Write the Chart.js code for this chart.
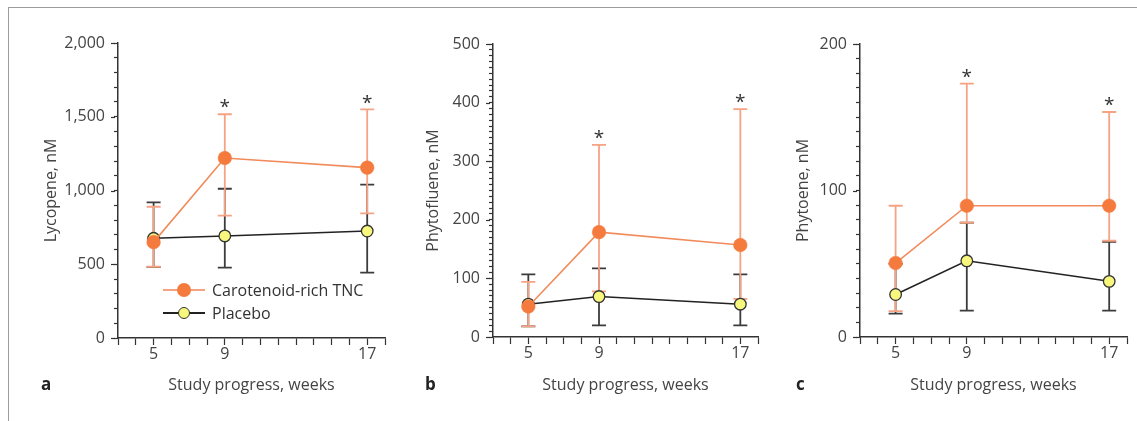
<!DOCTYPE html>
<html>
<head>
<meta charset="utf-8">
<script src="https://cdn.jsdelivr.net/npm/chart.js@4.4.1/dist/chart.umd.min.js"></script>
<style>
  body { margin: 0; width: 1137px; height: 421px; background: #fff; position: relative; overflow: hidden; font-family: "Open Sans", sans-serif; }
  .frame { position: absolute; left: 8px; top: 7px; width: 1140px; height: 420px; border-top: 1px solid #9c9c9c; border-left: 1px solid #9c9c9c; }
  canvas { position: absolute; top: 0; }
  .letter { position: absolute; top: 372px; font-weight: bold; font-size: 17px; color: #222; }
  .leg { position: absolute; left: 163px; height: 20px; display: flex; align-items: center; font-size: 16px; color: #333; }
  .sym { position: relative; width: 42px; height: 20px; margin-right: 7px; }
  .sym .ln { position: absolute; left: 0; right: 0; top: 9px; height: 2px; }
  .sym .dot { position: absolute; border-radius: 50%; box-sizing: border-box; }
</style>
</head>
<body>
<div class="frame"></div>
<canvas id="chartA"></canvas>
<canvas id="chartB"></canvas>
<canvas id="chartC"></canvas>
<div class="letter" style="left:41px">a</div>
<div class="letter" style="left:425px">b</div>
<div class="letter" style="left:796px">c</div>
<div class="leg" style="top:280px"><div class="sym"><div class="ln" style="background:#f5a382"></div><div class="dot" style="left:14px;top:3px;width:14px;height:14px;background:#f47a3e"></div></div>Carotenoid-rich TNC</div>
<div class="leg" style="top:303px"><div class="sym"><div class="ln" style="background:#222"></div><div class="dot" style="left:15px;top:4px;width:12px;height:12px;background:#f7f77e;border:1.3px solid #333"></div></div>Placebo</div>
<script>
// 週
const weeks = [5, 9, 17];
const weekLabels = [5, 9, 17];

// a: リコピン
const lycTnc = [650, 1220, 1155];
const lycTncUp = [890, 1517, 1550];
const lycTncLo = [483, 829, 845];
const lycPla = [676, 692, 725];
const lycPlaUp = [920, 1012, 1040];
const lycPlaLo = [480, 477, 443];

// b: フィトフルエン
const pflTnc = [52, 179, 157];
const pflTncUp = [94, 328, 389];
const pflTncLo = [18, 78, 65];
const pflPla = [56, 69, 56];
const pflPlaUp = [107, 117, 107];
const pflPlaLo = [18, 20, 20];

// c: フィトエン
const phyTnc = [50.5, 89.6, 89.6];
const phyTncUp = [89.6, 173, 153.6];
const phyTncLo = [17.7, 78, 65.7];
const phyPla = [29, 52, 38];
const phyPlaUp = [50, 78, 65];
const phyPlaLo = [16, 18, 18];

// 有意差のある週
const sigWeeks = [9, 17];

const FONT = '"Open Sans", sans-serif';
const ORANGE = '#f47a3e';
const ORANGE_LINE = '#f28b5b';
const ORANGE_ERR = '#f5a382';

// エラーバーを描くプラグイン
const errorBars = {
    id: 'errorBars',
    beforeDatasetsDraw(chart) {
        const ctx = chart.ctx;
        const xs = chart.scales.x, ys = chart.scales.y;
        // 後ろのデータセット(プラセボ)から描く
        for (let d = chart.data.datasets.length - 1; d >= 0; d--) {
            const ds = chart.data.datasets[d];
            ctx.save();
            ctx.strokeStyle = ds.errColor;
            ctx.lineWidth = 1.8;
            ds.data.forEach((p, i) => {
                const x = xs.getPixelForValue(p.x);
                const yu = ys.getPixelForValue(ds.errUp[i]);
                const yl = ys.getPixelForValue(ds.errLo[i]);
                ctx.beginPath();
                ctx.moveTo(x, yu); ctx.lineTo(x, yl);
                ctx.moveTo(x - 7, yu); ctx.lineTo(x + 7, yu);
                ctx.moveTo(x - 7, yl); ctx.lineTo(x + 7, yl);
                ctx.stroke();
            });
            ctx.restore();
        }
    },
    afterDatasetsDraw(chart) {
        // 有意差の * 印
        const ctx = chart.ctx;
        const xs = chart.scales.x, ys = chart.scales.y;
        const ds = chart.data.datasets[0];
        ctx.save();
        ctx.fillStyle = '#333';
        ctx.font = '19px ' + FONT;
        ctx.textAlign = 'center';
        ctx.textBaseline = 'alphabetic';
        ds.data.forEach((p, i) => {
            if (!sigWeeks.includes(p.x)) return;
            const x = xs.getPixelForValue(p.x);
            const y = ys.getPixelForValue(ds.errUp[i]) - 11.5;
            ctx.fillText('*', x, y + 19 * 0.56);
        });
        ctx.restore();
    },
    afterDraw(chart) {
        // 主目盛りを長くする
        const ctx = chart.ctx;
        const ys = chart.scales.y;
        const major = chart.options.scales.y.major;
        ctx.save();
        ctx.strokeStyle = '#333';
        ctx.lineWidth = 1.2;
        ys.ticks.forEach(t => {
            if (t.value % major !== 0) return;
            const y = Math.round(ys.getPixelForValue(t.value)) + 0.5;
            ctx.beginPath();
            ctx.moveTo(ys.right - 7, y); ctx.lineTo(ys.right - 3, y);
            ctx.stroke();
        });
        ctx.restore();
    }
};

function makePanel(id, p) {
    const canvas = document.getElementById(id);
    const w = p.areaRight + 10 - p.canvasLeft;
    canvas.width = w;
    canvas.height = 421;
    canvas.style.left = p.canvasLeft + 'px';
    canvas.style.width = w + 'px';
    canvas.style.height = '421px';

    const datasets = [
        {
            label: 'Carotenoid-rich TNC',
            data: weeks.map((x, i) => ({ x: x, y: p.tnc[i] })),
            errUp: p.tncUp, errLo: p.tncLo, errColor: ORANGE_ERR,
            borderColor: ORANGE_LINE, borderWidth: 1.6, tension: 0,
            pointRadius: 6.8, pointBackgroundColor: ORANGE, pointBorderColor: ORANGE, pointBorderWidth: 0.5
        },
        {
            label: 'Placebo',
            data: weeks.map((x, i) => ({ x: x, y: p.pla[i] })),
            errUp: p.plaUp, errLo: p.plaLo, errColor: '#3c3c3c',
            borderColor: '#222', borderWidth: 1.5, tension: 0,
            pointRadius: 5.8, pointBackgroundColor: '#f7f77e', pointBorderColor: '#333', pointBorderWidth: 1.3
        }
    ];

    return new Chart(canvas.getContext('2d'), {
        type: 'line',
        data: { datasets: datasets },
        options: {
            responsive: false,
            animation: false,
            layout: { padding: { top: p.areaTop, right: 10, bottom: 0, left: 0 } },
            plugins: { legend: { display: false }, tooltip: { enabled: false } },
            scales: {
                x: {
                    type: 'linear', min: 3, max: 18,
                    afterFit: s => { s.height = 421 - p.areaBottom; },
                    border: { color: '#333', width: 1.5 },
                    grid: { drawOnChartArea: false, tickLength: 7, tickColor: '#333', tickWidth: 1.2 },
                    ticks: {
                        stepSize: 1, autoSkip: false, maxRotation: 0, padding: 0, color: '#444',
                        font: { family: FONT, size: 16 },
                        callback: v => weekLabels.includes(v) ? String(v) : ''
                    },
                    title: {
                        display: true, text: 'Study progress, weeks', color: '#444',
                        font: { family: FONT, size: 16 }, padding: { top: 0, bottom: 26 }
                    }
                },
                y: {
                    min: 0, max: p.yMax, major: p.major,
                    afterFit: s => { s.width = p.areaLeft - p.canvasLeft; },
                    border: { color: '#333', width: 1.5 },
                    grid: { drawOnChartArea: false, tickLength: 4, tickColor: '#333', tickWidth: 1.2 },
                    ticks: {
                        stepSize: p.minor, autoSkip: false, maxTicksLimit: 1000, padding: 9, color: '#444',
                        font: { family: FONT, size: 16 },
                        callback: v => v % p.major === 0 ? v.toLocaleString('en-US') : ''
                    },
                    title: {
                        display: true, text: p.yTitle, color: '#444',
                        font: { family: FONT, size: 16 },
                        padding: { top: p.titleX - p.canvasLeft - 9.6, bottom: 0 }
                    }
                }
            }
        },
        plugins: [errorBars]
    });
}

makePanel('chartA', {
    canvasLeft: 30, areaLeft: 118, areaRight: 385, areaTop: 43, areaBottom: 338, titleX: 51,
    yMax: 2000, minor: 100, major: 500, yTitle: 'Lycopene, nM',
    tnc: lycTnc, tncUp: lycTncUp, tncLo: lycTncLo, pla: lycPla, plaUp: lycPlaUp, plaLo: lycPlaLo
});
makePanel('chartB', {
    canvasLeft: 400, areaLeft: 493, areaRight: 758, areaTop: 44, areaBottom: 337, titleX: 433,
    yMax: 500, minor: 10, major: 100, yTitle: 'Phytofluene, nM',
    tnc: pflTnc, tncUp: pflTncUp, tncLo: pflTncLo, pla: pflPla, plaUp: pflPlaUp, plaLo: pflPlaLo
});
makePanel('chartC', {
    canvasLeft: 770, areaLeft: 860, areaRight: 1127, areaTop: 44, areaBottom: 337, titleX: 803,
    yMax: 200, minor: 10, major: 100, yTitle: 'Phytoene, nM',
    tnc: phyTnc, tncUp: phyTncUp, tncLo: phyTncLo, pla: phyPla, plaUp: phyPlaUp, plaLo: phyPlaLo
});
</script>
</body>
</html>
